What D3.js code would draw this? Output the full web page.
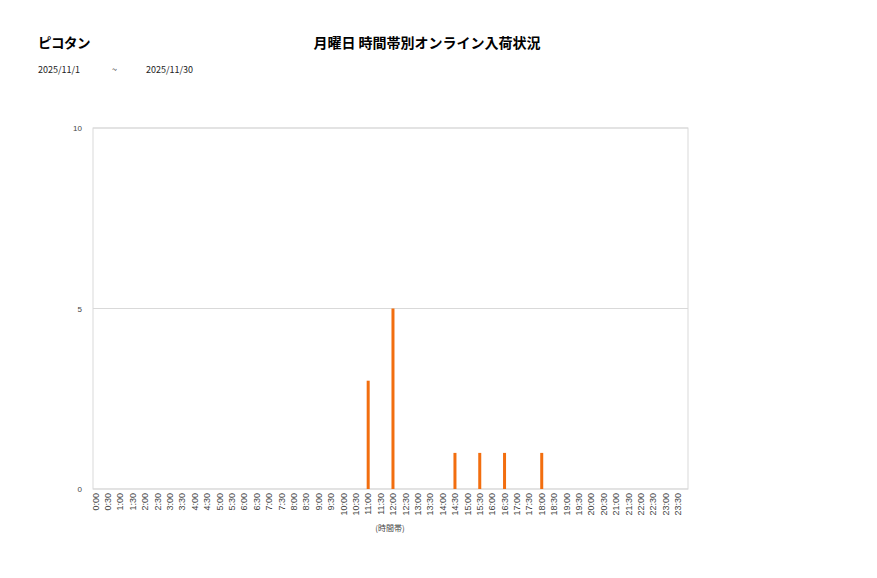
<!DOCTYPE html>
<html>
<head>
<meta charset="utf-8">
<script src="https://cdn.jsdelivr.net/npm/d3@7"></script>
<style>
	body { margin: 0; background: #fff; }
	svg { font-family: "Noto Sans CJK JP", "Noto Sans", sans-serif; }
	.tick text { fill: #444; }
</style>
</head>
<body>
<div id="chart"></div>
<script>
// 時間帯ラベル（30分刻み）
const timeSlots = ["0:00","0:30","1:00","1:30","2:00","2:30","3:00","3:30","4:00","4:30",
	"5:00","5:30","6:00","6:30","7:00","7:30","8:00","8:30","9:00","9:30",
	"10:00","10:30","11:00","11:30","12:00","12:30","13:00","13:30","14:00","14:30",
	"15:00","15:30","16:00","16:30","17:00","17:30","18:00","18:30","19:00","19:30",
	"20:00","20:30","21:00","21:30","22:00","22:30","23:00","23:30"];

// 入荷のあった時間帯と件数
const arrivalSlots = ["11:00", "12:00", "14:30", "15:30", "16:30", "18:00"];
const arrivalCounts = [3, 5, 1, 1, 1, 1];

const yTicks = [0, 5, 10];

const shopName = "ピコタン";
const chartTitle = "月曜日 時間帯別オンライン入荷状況";
const dateFrom = "2025/11/1";
const dateTo = "2025/11/30";

const counts = timeSlots.map(t => {
	const i = arrivalSlots.indexOf(t);
	return i < 0 ? 0 : arrivalCounts[i];
});

const width = 877, height = 578;
const plotL = 93, plotR = 688, plotT = 128, plotB = 489;

const svg = d3.select("#chart")
	.append("svg")
	.attr("width", width)
	.attr("height", height);

svg.append("text")
	.attr("x", 38).attr("y", 48)
	.attr("font-size", 13.5).attr("font-weight", "bold")
	.attr("letter-spacing", -0.5)
	.text(shopName);

svg.append("text")
	.attr("x", 427).attr("y", 48)
	.attr("text-anchor", "middle")
	.attr("font-size", 14).attr("font-weight", "bold")
	.text(chartTitle);

const sub = svg.append("g").attr("font-size", 9).attr("fill", "#222");
sub.append("text").attr("x", 38).attr("y", 73).text(dateFrom);
sub.append("text").attr("x", 112).attr("y", 73).text("~");
sub.append("text").attr("x", 146).attr("y", 73).text(dateTo);

const x = d3.scaleBand()
	.domain(timeSlots)
	.range([plotL, plotR]);

// 元の図ではラベルと棒が区間の中心より少し左に寄っている
const catShift = -x.bandwidth() * 0.3;

const y = d3.scaleLinear()
	.domain([0, 10])
	.range([plotB, plotT]);

// 横グリッド
svg.append("g")
	.selectAll("line")
	.data(yTicks)
	.enter().append("line")
	.attr("x1", plotL).attr("x2", plotR)
	.attr("y1", d => y(d)).attr("y2", d => y(d))
	.attr("stroke", "#d9d9d9");

// 枠
svg.append("rect")
	.attr("x", plotL).attr("y", plotT)
	.attr("width", plotR - plotL).attr("height", plotB - plotT)
	.attr("fill", "none")
	.attr("stroke", "#d9d9d9");

svg.append("g")
	.attr("transform", "translate(" + (plotL - 8) + ",0)")
	.call(d3.axisLeft(y).tickValues(yTicks).tickSize(0))
	.call(g => g.select(".domain").remove())
	.selectAll("text")
	.attr("font-size", 8);

const xAxis = svg.append("g")
	.attr("transform", "translate(" + catShift + "," + plotB + ")")
	.call(d3.axisBottom(x).tickSize(0))
	.call(g => g.select(".domain").remove());

xAxis.selectAll("text")
	.attr("font-size", 9)
	.attr("text-anchor", "end")
	.attr("transform", "rotate(-90)")
	.attr("x", -4)
	.attr("y", 0)
	.attr("dy", "0.35em");

svg.append("text")
	.attr("x", 390).attr("y", 531)
	.attr("text-anchor", "middle")
	.attr("font-size", 8)
	.attr("fill", "#444")
	.text("(時間帯)");

const barW = 3;
svg.append("g")
	.selectAll("rect")
	.data(timeSlots.map((t, i) => ({ t: t, v: counts[i] })).filter(d => d.v > 0))
	.enter().append("rect")
	.attr("x", d => x(d.t) + x.bandwidth() / 2 + catShift - barW / 2)
	.attr("y", d => y(d.v))
	.attr("width", barW)
	.attr("height", d => y(0) - y(d.v))
	.attr("fill", "#f26e0f");
</script>
</body>
</html>
